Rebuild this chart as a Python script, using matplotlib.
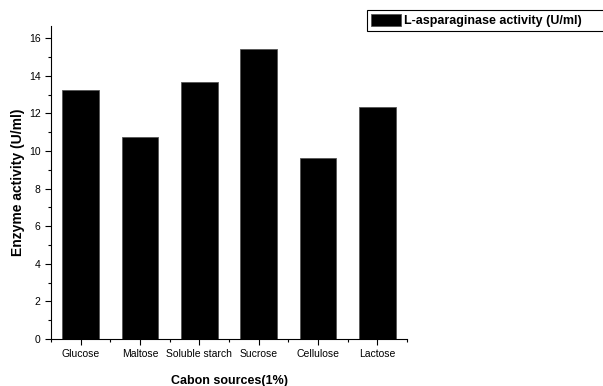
import matplotlib.pyplot as plt
from matplotlib.ticker import MultipleLocator

plt.rcParams['font.family'] = ['Liberation Sans', 'DejaVu Sans']

sources = ['Glucose', 'Maltose', 'Soluble starch', 'Sucrose', 'Cellulose', 'Lactose']
activity = [13.24, 10.75, 13.65, 15.42, 9.62, 12.34]

fig = plt.figure(figsize=(6.03, 3.86), dpi=100)
ax = fig.add_axes([0.0846, 0.1218, 0.5904, 0.8108])

positions = range(1, len(sources) + 1)
bars = ax.bar(positions, activity, width=0.62, color='black', edgecolor='#555555',
              linewidth=0.6, label='L-asparaginase activity (U/ml)')

ax.set_xlim(0.5, 6.5)
ax.set_ylim(0, 16.65)
ax.set_xticks(list(positions))
ax.set_xticklabels(sources, fontsize=7.5)
ax.xaxis.set_minor_locator(MultipleLocator(1, offset=0.5))
ax.yaxis.set_major_locator(MultipleLocator(2))
ax.yaxis.set_minor_locator(MultipleLocator(1))
ax.tick_params(axis='both', which='major', direction='out', length=4, width=0.8, labelsize=7.5)
ax.tick_params(axis='both', which='minor', direction='out', length=2.5, width=0.8)

for side in ['top', 'right']:
    ax.spines[side].set_visible(False)

ax.set_xlabel('Cabon sources(1%)', fontsize=9, fontweight='bold', labelpad=11)
ax.set_ylabel('Enzyme activity (U/ml)', fontsize=10, fontweight='bold', labelpad=3)

# legend box runs to the right edge of the figure, as in the original
leg = fig.legend(handles=[bars], loc='upper left',
                 bbox_to_anchor=(367 / 603, 1 - 33 / 386, 240 / 603, 23 / 386), mode='expand',
                 borderaxespad=0, fancybox=False, edgecolor='black', framealpha=1,
                 prop={'weight': 'bold', 'size': 9}, handlelength=2.4, handleheight=1.1,
                 handletextpad=0.3, borderpad=0.3)
leg.get_frame().set_linewidth(0.8)

fig.savefig('out.png', dpi=100)
